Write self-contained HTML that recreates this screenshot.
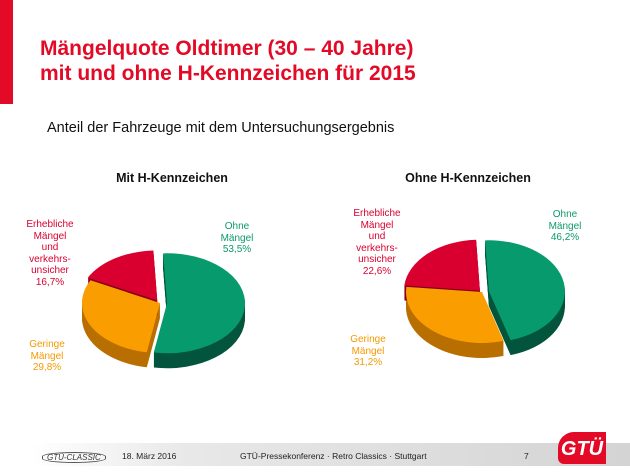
<!DOCTYPE html>
<html><head><meta charset="utf-8"><style>
body{margin:0;width:630px;height:473px;overflow:hidden;background:#fff;font-family:"Liberation Sans",sans-serif;position:relative}
.t{position:absolute}
</style></head><body>
<div class="t" style="left:0;top:0;width:13px;height:104px;background:#e30a27"></div>
<div class="t" style="left:40px;top:36px;color:#e30a27;font-weight:bold;font-size:21px;line-height:25px">Mängelquote Oldtimer (30 – 40 Jahre)<br>mit und ohne H-Kennzeichen für 2015</div>
<div class="t" style="left:47px;top:120px;font-size:14.5px;color:#111">Anteil der Fahrzeuge mit dem Untersuchungsergebnis</div>
<svg id="c" class="t" style="left:0;top:0" width="630" height="473"></svg>
<div class="t" style="left:0;top:443px;width:630px;height:23px;background:linear-gradient(90deg,#fff 5%,#e8e8e8 30%,#d4d4d4 100%)"></div>
<div class="t" style="left:42px;top:452px;font-size:8px;color:#333;border:1px solid #555;border-radius:50%/40%;padding:0 4px;font-style:italic">GTÜ-CLASSIC</div>
<div class="t" style="left:122px;top:451px;font-size:8.5px;color:#222">18. März 2016</div>
<div class="t" style="left:240px;top:451px;font-size:8.5px;color:#222">GTÜ-Pressekonferenz · Retro Classics · Stuttgart</div>
<div class="t" style="left:524px;top:451px;font-size:8.5px;color:#222">7</div>
<div class="t" style="left:558px;top:432px;width:48px;height:32px;background:#e30a27;border-radius:16px 0 0 6px;color:#fff;font-weight:bold;font-size:20px;line-height:34px;text-align:center;font-style:italic">GTÜ</div>
<script>
const titles=["Mit H-Kennzeichen","Ohne H-Kennzeichen"];
const catNames=["Ohne Mängel","Geringe Mängel","Erhebliche Mängel und verkehrsunsicher"];
const valuesMit=[53.5,29.8,16.7];
const valuesOhne=[46.2,31.2,22.6];
const labelsMit=["Ohne<br>Mängel<br>53,5%","Geringe<br>Mängel<br>29,8%","Erhebliche<br>Mängel<br>und<br>verkehrs-<br>unsicher<br>16,7%"];
const labelsOhne=["Ohne<br>Mängel<br>46,2%","Geringe<br>Mängel<br>31,2%","Erhebliche<br>Mängel<br>und<br>verkehrs-<br>unsicher<br>22,6%"];
const colors=["#069a6c","#f99d00","#d9002f"];
const darks=["#03553c","#b86f00","#8a001d"];
const textCol=["#0a9a6c","#f39a00","#d9002f"];
const svg=document.getElementById('c');const NS="http://www.w3.org/2000/svg";
function pie(vals,cx,cy,rx,ry,depth,explode,rot,name){
  const tot=vals.reduce((a,b)=>a+b,0);let a=0;const sl=[];
  vals.forEach((v,i)=>{const a0=rot+a/tot*2*Math.PI,a1=rot+(a+v)/tot*2*Math.PI;a+=v;
    const m=(a0+a1)/2;const ex=explode[i];sl.push({i,a0,a1,dx:ex*Math.sin(m),dy:-ex*0.62*Math.cos(m)});});
  function path(s,off){const x=cx+s.dx,y=cy+s.dy+off;
    const p=t=>[x+rx*Math.sin(t),y-ry*Math.cos(t)];const A=p(s.a0),B=p(s.a1);
    const large=(s.a1-s.a0)>Math.PI?1:0;
    return `M${x},${y}L${A[0]},${A[1]}A${rx},${ry} 0 ${large} 1 ${B[0]},${B[1]}Z`;}
  sl.forEach(s=>{for(let d=depth;d>0;d--){const e=document.createElementNS(NS,'path');e.setAttribute('d',path(s,d));e.setAttribute('fill',darks[s.i]);
    
    
    svg.appendChild(e);}});
  sl.forEach(s=>{const e=document.createElementNS(NS,'path');e.setAttribute('d',path(s,0));e.setAttribute('fill',colors[s.i]);
    
    
    svg.appendChild(e);});
}
pie(valuesMit,160,303,78,50,15,[7,0,5],-0.05,'pie-mit');
pie(valuesOhne,482,292,76,51,15,[7,0,3],-0.05,'pie-ohne');
function lbl(html,x,y,col,name){const d=document.createElement('div');d.className='t';d.innerHTML=html;
  d.style.cssText=`left:${x}px;top:${y}px;color:${col};font-size:10px;line-height:11.5px;text-align:center;width:70px`;
  
  
  document.body.appendChild(d);}
function ttl(t,x,name){const d=document.createElement('div');d.className='t';d.textContent=t;
  d.style.cssText=`left:${x}px;top:171px;font-weight:bold;font-size:12.5px;width:200px;text-align:center;color:#111`;
  
  
  document.body.appendChild(d);}
ttl(titles[0],72,'title-mit');ttl(titles[1],368,'title-ohne');
lbl(labelsMit[0],202,221,textCol[0],'label-mit-ohne');
lbl(labelsMit[1],12,339,textCol[1],'label-mit-geringe');
lbl(labelsMit[2],15,219,textCol[2],'label-mit-erhebliche');
lbl(labelsOhne[0],530,209,textCol[0],'label-ohne-ohne');
lbl(labelsOhne[1],333,334,textCol[1],'label-ohne-geringe');
lbl(labelsOhne[2],342,208,textCol[2],'label-ohne-erhebliche');
</script>
</body></html>
